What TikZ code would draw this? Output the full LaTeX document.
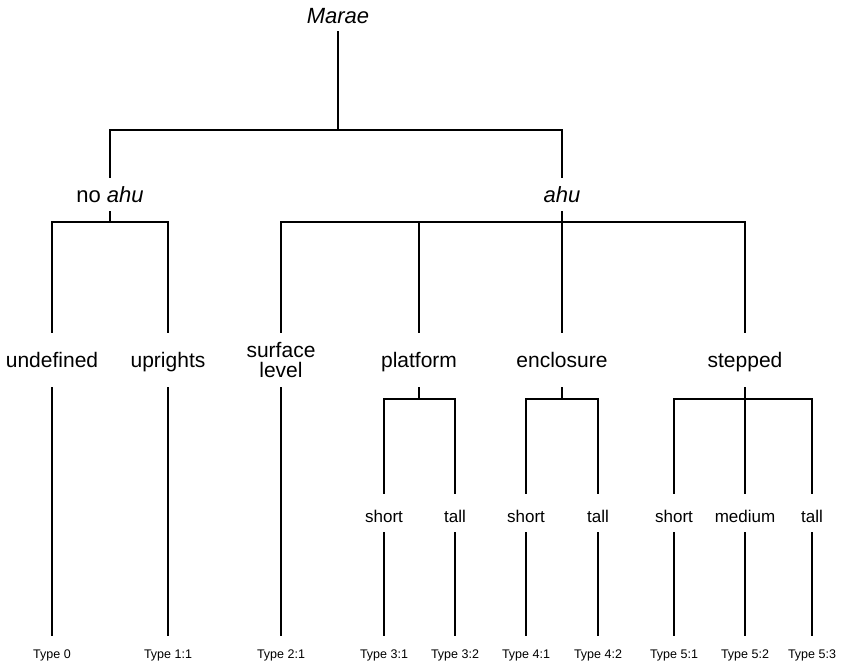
\documentclass[tikz,border=0pt]{standalone}
\usepackage{fontspec}
\setmainfont{Liberation Sans}
\begin{document}
\begin{tikzpicture}[x=1pt, y=-1pt,
  every node/.style={anchor=base, inner sep=0pt, outer sep=0pt},
  lvltop/.style={font=\fontsize{22}{24}\selectfont\itshape, text height=16pt, text depth=9pt},
  lvlone/.style={font=\fontsize{22}{24}\selectfont, text height=25pt, text depth=10pt},
  lvltwo/.style={font=\fontsize{21}{20}\selectfont, text height=35pt, text depth=21pt},
  lvlthree/.style={font=\fontsize{17}{19}\selectfont, text height=29pt, text depth=11pt},
  typelbl/.style={font=\fontsize{12.5}{14}\selectfont, text height=23pt, text depth=4pt},
  branch/.style={-, line width=1.3pt, line cap=rect, draw=black}]
\useasboundingbox (0,0) rectangle (845,665);
\node[lvltop] (Marae) at (338,23) {Marae};
\node[lvlone] (noahu) at (110,202) {no \textit{ahu}};
\node[lvlone] (ahu) at (562,202) {\textit{ahu}};
\node[lvltwo] (undef) at (52,367) {undefined};
\node[lvltwo] (upr) at (168,367) {uprights};
\node[lvltwo, align=center, text height=45pt, text depth=11pt] (surf) at (281,377) {surface\\level};
\node[lvltwo] (plat) at (419,367) {platform};
\node[lvltwo] (encl) at (562,367) {enclosure};
\node[lvltwo] (stepd) at (745,367) {stepped};
\node[lvlthree] (ps) at (384,522) {short};
\node[lvlthree] (pt) at (455,522) {tall};
\node[lvlthree] (es) at (526,522) {short};
\node[lvlthree] (et) at (598,522) {tall};
\node[lvlthree] (ss) at (674,522) {short};
\node[lvlthree] (sm) at (745,522) {medium};
\node[lvlthree] (st) at (812,522) {tall};
\node[typelbl] (t0) at (52,658) {Type 0};
\node[typelbl] (t11) at (168,658) {Type 1:1};
\node[typelbl] (t21) at (281,658) {Type 2:1};
\node[typelbl] (t31) at (384,658) {Type 3:1};
\node[typelbl] (t32) at (455,658) {Type 3:2};
\node[typelbl] (t41) at (526,658) {Type 4:1};
\node[typelbl] (t42) at (598,658) {Type 4:2};
\node[typelbl] (t51) at (674,658) {Type 5:1};
\node[typelbl] (t52) at (745,658) {Type 5:2};
\node[typelbl] (t53) at (812,658) {Type 5:3};
% junctions
\coordinate (j0) at (338,130);
\coordinate (j0l) at (110,130);
\coordinate (j0r) at (562,130);
\coordinate (j1) at (110,222);
\coordinate (j1l) at (52,222);
\coordinate (j1r) at (168,222);
\coordinate (j2) at (562,222);
\coordinate (j2a) at (281,222);
\coordinate (j2b) at (419,222);
\coordinate (j2c) at (745,222);
\coordinate (j3) at (419,399);
\coordinate (j3l) at (384,399);
\coordinate (j3r) at (455,399);
\coordinate (j4) at (562,399);
\coordinate (j4l) at (526,399);
\coordinate (j4r) at (598,399);
\coordinate (j5) at (745,399);
\coordinate (j5l) at (674,399);
\coordinate (j5r) at (812,399);
% tree
\path [branch] (Marae) edge (j0);
\path [branch] (j0l) edge (j0r);
\path [branch] (j0l) edge (noahu);
\path [branch] (j0r) edge (ahu);
\path [branch] (noahu) edge (j1);
\path [branch] (j1l) edge (j1r);
\path [branch] (j1l) edge (undef);
\path [branch] (j1r) edge (upr);
\path [branch] (ahu) edge (j2);
\path [branch] (j2a) edge (j2c);
\path [branch] (j2a) edge (surf);
\path [branch] (j2b) edge (plat);
\path [branch] (j2) edge (encl);
\path [branch] (j2c) edge (stepd);
\path [branch] (plat) edge (j3);
\path [branch] (j3l) edge (j3r);
\path [branch] (j3l) edge (ps);
\path [branch] (j3r) edge (pt);
\path [branch] (encl) edge (j4);
\path [branch] (j4l) edge (j4r);
\path [branch] (j4l) edge (es);
\path [branch] (j4r) edge (et);
\path [branch] (stepd) edge (j5);
\path [branch] (j5l) edge (j5r);
\path [branch] (j5l) edge (ss);
\path [branch] (j5) edge (sm);
\path [branch] (j5r) edge (st);
% types
\path [branch] (undef) edge (t0);
\path [branch] (upr) edge (t11);
\path [branch] (surf) edge (t21);
\path [branch] (ps) edge (t31);
\path [branch] (pt) edge (t32);
\path [branch] (es) edge (t41);
\path [branch] (et) edge (t42);
\path [branch] (ss) edge (t51);
\path [branch] (sm) edge (t52);
\path [branch] (st) edge (t53);
\end{tikzpicture}
\end{document}
